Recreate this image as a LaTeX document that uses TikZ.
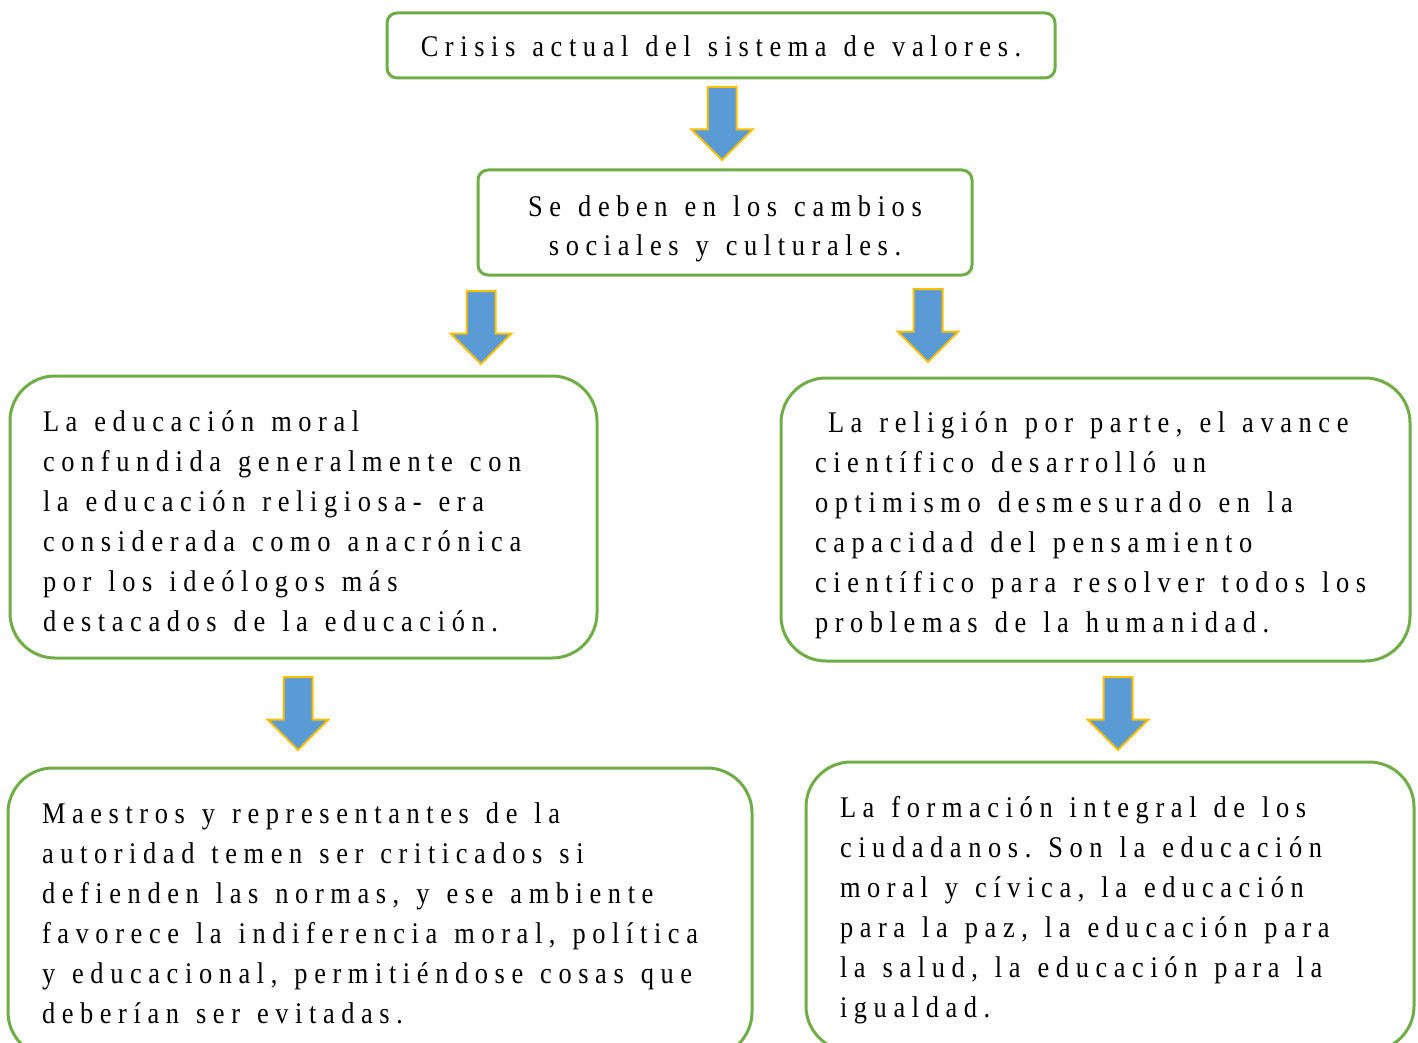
\documentclass[tikz,border=0pt]{standalone}
\usepackage{fontspec}
\setmainfont{Liberation Serif}[FakeStretch=0.88, LetterSpace=22]
\usetikzlibrary{shapes.arrows}

\begin{document}
\begin{tikzpicture}[x=1pt, y=-1pt,
    box/.style={draw=boxgreen, line width=3pt, rounded corners=45pt, align=left,
        font=\fontsize{30}{40}\selectfont, inner xsep=0pt, inner ysep=0pt,
        execute at begin node={\spaceskip=17pt\xspaceskip=17pt\relax}},
    smallbox/.style={box, rounded corners=10pt, align=center, font=\fontsize{30}{39}\selectfont},
    baselinedrop/.style={text height=0pt, text depth=#1},
    downarrow/.style={single arrow, draw=arrowgold, fill=arrowblue, line width=2pt,
        rotate=-90, anchor=tail, minimum height=73pt, minimum width=59pt,
        single arrow head extend=16pt, inner xsep=0pt, inner ysep=13.5pt,
        text height=0pt, text depth=0pt}]
    \definecolor{boxgreen}{HTML}{70AD47}
    \definecolor{arrowblue}{HTML}{5B9BD5}
    \definecolor{arrowgold}{HTML}{FFC000}

    \useasboundingbox (0,0) rectangle (1418,1043);
    \clip (0,0) rectangle (1418,1043);

    \coordinate (crisis_center) at (721,45.5);
    \coordinate (causes_center) at (725,222.5);
    \coordinate (moral_center) at (303.5,517);
    \coordinate (science_center) at (1095.5,519.5);
    \coordinate (teachers_center) at (380,912.5);
    \coordinate (citizens_center) at (1110,906.5);

    \coordinate (arrow_top) at (722,86);
    \coordinate (arrow_left_top) at (481,290);
    \coordinate (arrow_right_top) at (928,288);
    \coordinate (arrow_low_left_top) at (298,676);
    \coordinate (arrow_low_right_top) at (1118,676);

    \node (crisis) at (crisis_center) [smallbox, text height=22.4pt, text depth=0pt, minimum width=668pt, minimum height=65pt] {Crisis actual del sistema de valores.};
    \node (causes) at (causes_center) [smallbox, baselinedrop=13pt, minimum width=494pt, minimum height=105pt, text width=470pt] {Se deben en los cambios\\sociales y culturales.};

    \node (moral) at (moral_center) [box, baselinedrop=172pt, minimum width=587pt, minimum height=282pt, text width=521pt] {
        La educación moral\\
        confundida generalmente con\\
        la educación religiosa- era\\
        considerada como anacrónica\\
        por los ideólogos más\\
        destacados de la educación.};
    \node (science) at (science_center) [box, baselinedrop=174pt, minimum width=629pt, minimum height=283pt, text width=561pt] {
        \hspace*{13pt}La religión por parte, el avance\\
        científico desarrolló un\\
        optimismo desmesurado en la\\
        capacidad del pensamiento\\
        científico para resolver todos los\\
        problemas de la humanidad.};
    \node (teachers) at (teachers_center) [box, baselinedrop=178.4pt, minimum width=744pt, minimum height=289pt, text width=676pt] {
        Maestros y representantes de la\\
        autoridad temen ser criticados si\\
        defienden las normas, y ese ambiente\\
        favorece la indiferencia moral, política\\
        y educacional, permitiéndose cosas que\\
        deberían ser evitadas.};
    \node (citizens) at (citizens_center) [box, baselinedrop=178.4pt, minimum width=608pt, minimum height=289pt, text width=540pt] {
        La formación integral de los\\
        ciudadanos. Son la educación\\
        moral y cívica, la educación\\
        para la paz, la educación para\\
        la salud, la educación para la\\
        igualdad.};

    \node (arrow_crisis) at (arrow_top) [downarrow] {};
    \node (arrow_moral) at (arrow_left_top) [downarrow] {};
    \node (arrow_science) at (arrow_right_top) [downarrow] {};
    \node (arrow_teachers) at (arrow_low_left_top) [downarrow] {};
    \node (arrow_citizens) at (arrow_low_right_top) [downarrow] {};

\end{tikzpicture}
\end{document}
